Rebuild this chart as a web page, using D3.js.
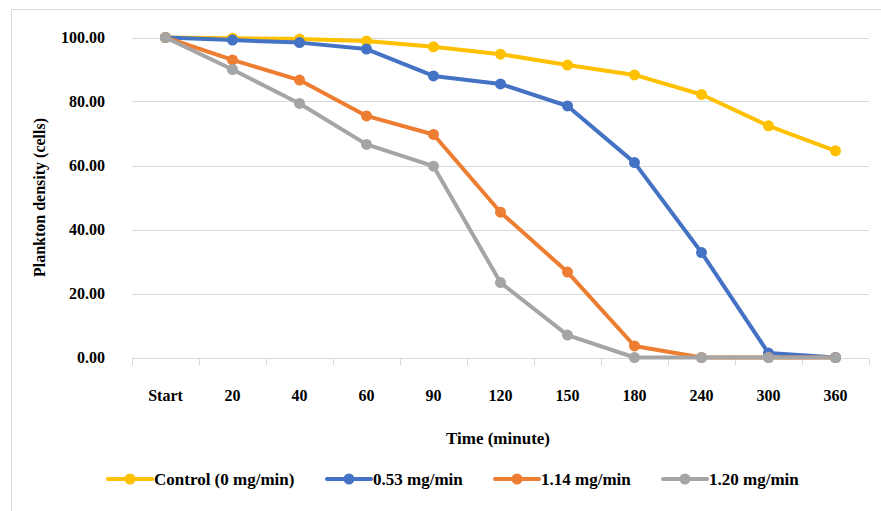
<!DOCTYPE html>
<html>
<head>
<meta charset="utf-8">
<script src="https://cdn.jsdelivr.net/npm/d3@7/dist/d3.min.js"></script>
<style>
  html, body { margin: 0; padding: 0; background: #ffffff; }
  svg { display: block; }
  text { font-family: "Liberation Serif", "Times New Roman", serif; font-weight: bold; fill: #000; }
</style>
</head>
<body>
<svg id="chart" width="881" height="511"></svg>
<script>
// Sampling times (x categories)
const categories = ["Start", "20", "40", "60", "90", "120", "150", "180", "240", "300", "360"];

// Plankton density per treatment
const seriesNames = ["Control (0 mg/min)", "0.53 mg/min", "1.14 mg/min", "1.20 mg/min"];
const control = [100, 99.8, 99.5, 98.9, 97.1, 94.8, 91.4, 88.3, 82.2, 72.4, 64.6];
const dose053 = [100, 99.2, 98.4, 96.4, 88.0, 85.5, 78.6, 60.9, 32.8, 1.4, 0];
const dose114 = [100, 93.0, 86.7, 75.5, 69.7, 45.4, 26.7, 3.6, 0, 0, 0];
const dose120 = [100, 90.0, 79.4, 66.6, 59.8, 23.4, 7.0, 0, 0, 0, 0];
const seriesColors = ["#FFC000", "#4472C4", "#ED7D31", "#A5A5A5"];

// Y axis ticks
const yTicks = [0, 20, 40, 60, 80, 100];

const series = [control, dose053, dose114, dose120].map((vals, i) => ({
  name: seriesNames[i], color: seriesColors[i], values: vals
}));

const svg = d3.select("#chart");

// Chart frame
svg.append("rect")
  .attr("x", 11.5).attr("y", 9.5)
  .attr("width", 900).attr("height", 520)
  .attr("fill", "none").attr("stroke", "#d9d9d9").attr("stroke-width", 1);

const plot = { left: 132, right: 869, top: 37.5, bottom: 357.5 };

const x = d3.scaleBand().domain(categories).range([plot.left, plot.right]).padding(0);
const y = d3.scaleLinear().domain([0, 100]).range([plot.bottom, plot.top]);

// Horizontal gridlines
svg.append("g").selectAll("line").data(yTicks.filter(t => t > 0)).join("line")
  .attr("x1", plot.left).attr("x2", plot.right)
  .attr("y1", d => Math.round(y(d)) + 0.5).attr("y2", d => Math.round(y(d)) + 0.5)
  .attr("stroke", "#d9d9d9").attr("stroke-width", 1);

// Y axis labels
const yAxis = svg.append("g")
  .attr("transform", `translate(${plot.left},0)`)
  .call(d3.axisLeft(y).tickValues(yTicks).tickFormat(d3.format(".2f")).tickSize(0).tickPadding(27));
yAxis.select(".domain").remove();
yAxis.selectAll("text").style("font-size", "16px").style("font-family", "Liberation Serif").style("font-weight", "bold");

// X axis: baseline and tick marks at category boundaries
const xAxis = svg.append("g").attr("transform", `translate(0,${Math.round(plot.bottom) + 0.5})`);
xAxis.append("line")
  .attr("x1", plot.left).attr("x2", plot.right)
  .attr("stroke", "#d9d9d9").attr("stroke-width", 1);
const bounds = categories.map(c => x(c)).concat([x(categories[categories.length - 1]) + x.bandwidth()]);
xAxis.selectAll("line.tick").data(bounds).join("line")
  .attr("class", "tick")
  .attr("x1", d => Math.round(d) + 0.5).attr("x2", d => Math.round(d) + 0.5)
  .attr("y1", 0).attr("y2", 7)
  .attr("stroke", "#d9d9d9").attr("stroke-width", 1);
xAxis.selectAll("text").data(categories).join("text")
  .attr("x", d => x(d) + x.bandwidth() / 2)
  .attr("y", 42)
  .attr("text-anchor", "middle")
  .style("font-size", "16px")
  .text(d => d);

// Axis titles
svg.append("text")
  .attr("x", 498).attr("y", 444)
  .attr("text-anchor", "middle")
  .style("font-size", "17px")
  .text("Time (minute)");

svg.append("text")
  .attr("transform", `translate(45,${(plot.top + plot.bottom) / 2}) rotate(-90)`)
  .attr("text-anchor", "middle")
  .style("font-size", "16px")
  .text("Plankton density (cells)");

// Lines and markers
const line = d3.line()
  .x((d, i) => x(categories[i]) + x.bandwidth() / 2)
  .y(d => y(d));

const g = svg.append("g");
series.forEach(s => {
  g.append("path")
    .attr("d", line(s.values))
    .attr("fill", "none")
    .attr("stroke", s.color)
    .attr("stroke-width", 4)
    .attr("stroke-linejoin", "round")
    .attr("stroke-linecap", "round");
  g.selectAll(null).data(s.values).join("circle")
    .attr("cx", (d, i) => x(categories[i]) + x.bandwidth() / 2)
    .attr("cy", d => y(d))
    .attr("r", 5.5)
    .attr("fill", s.color);
});

// Legend
const legendX = [108, 327, 495, 663];
const legendY = 479;
const leg = svg.append("g");
series.forEach((s, i) => {
  const lx = legendX[i];
  leg.append("line")
    .attr("x1", lx).attr("x2", lx + 44)
    .attr("y1", legendY).attr("y2", legendY)
    .attr("stroke", s.color).attr("stroke-width", 4).attr("stroke-linecap", "round");
  leg.append("circle")
    .attr("cx", lx + 22).attr("cy", legendY).attr("r", 5.5).attr("fill", s.color);
  leg.append("text")
    .attr("x", lx + 46).attr("y", legendY + 6)
    .style("font-size", "17px")
    .text(s.name);
});
</script>
</body>
</html>
